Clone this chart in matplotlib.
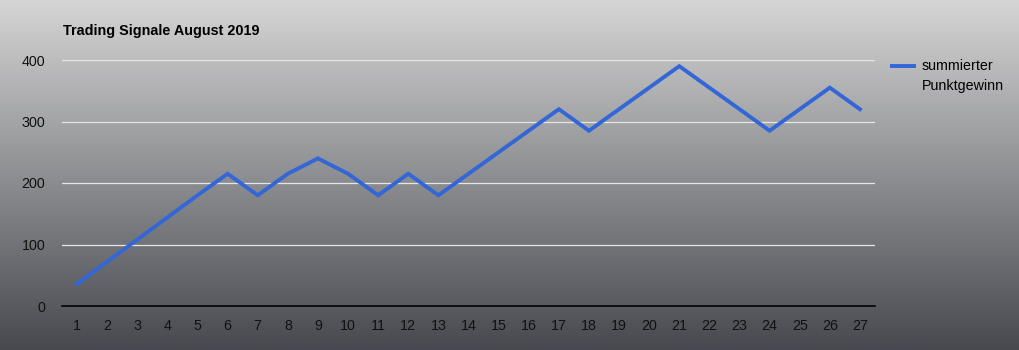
import numpy as np
import matplotlib
matplotlib.use("Agg")
import matplotlib.pyplot as plt
from matplotlib.colors import LinearSegmentedColormap
from matplotlib.lines import Line2D

plt.rcParams['font.family'] = ['Liberation Sans', 'DejaVu Sans']

days = list(range(1, 28))
points = [36, 72, 108, 144, 180, 215, 180, 215, 240, 215, 180, 215, 180,
          215, 250, 285, 320, 285, 320, 355, 390, 355, 320, 285, 320, 355, 320]
yticks = [0, 100, 200, 300, 400]
line_color = "#3366d6"

fig = plt.figure(figsize=(10.2, 3.5), dpi=100)

# gradient background
bg = fig.add_axes([0, 0, 1, 1], zorder=-10)
cmap = LinearSegmentedColormap.from_list("bg", ["#d5d5d5", "#8e8f92", "#484950"])
bg.imshow(np.linspace(0, 1, 256).reshape(-1, 1), aspect='auto', cmap=cmap,
          extent=[0, 1, 0, 1])
bg.axis('off')

ax = fig.add_axes([62 / 1020, 44 / 350, 813 / 1020, 246 / 350])
ax.patch.set_alpha(0)
ax.plot(days, points, color=line_color, lw=2.8, solid_joinstyle='miter')

ax.set_xlim(0.5, 27.5)
ax.set_ylim(0, 400)
ax.set_xticks(days)
ax.set_yticks(yticks)
ax.grid(axis='y', color='#e6e6e6', lw=0.9)
ax.set_axisbelow(True)
for s in ['top', 'right', 'left']:
    ax.spines[s].set_visible(False)
ax.spines['bottom'].set_color('black')
ax.spines['bottom'].set_linewidth(1.2)
ax.tick_params(length=0, labelsize=10.3, colors='#111111', pad=9)
ax.tick_params(axis='y', pad=12)

fig.text(63 / 1020, 1 - 31 / 350, "Trading Signale August 2019", fontsize=10.4,
         fontweight='bold', va='center', ha='left')

# legend drawn by hand: handle aligned with the first text line
fig.add_artist(Line2D([890 / 1020, 916 / 1020], [1 - 66 / 350, 1 - 66 / 350],
                      color=line_color, lw=2.8, solid_capstyle='butt'))
fig.text(922 / 1020, 1 - 66 / 350, "summierter", fontsize=10.3, va='center')
fig.text(922 / 1020, 1 - 86 / 350, "Punktgewinn", fontsize=10.3, va='center')

fig.savefig("out.png", dpi=100)
